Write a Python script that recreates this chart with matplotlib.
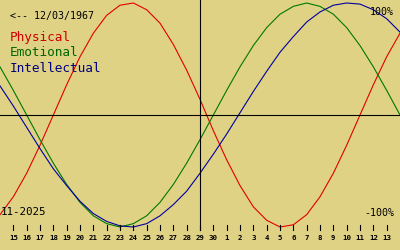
import numpy as np
import matplotlib
matplotlib.use("Agg")
import matplotlib.pyplot as plt

BG = "#E0D285"
RED = "#E00000"
GREEN = "#007800"
BLUE = "#0000A0"
MONO = "DejaVu Sans Mono"

# day labels, Nov 14 .. Dec 14 2025
day_labels = [str(d) for d in range(14, 31)] + [str(d) for d in range(1, 15)]
today_idx = 15  # Nov 29

# biorhythm values per day (-1 .. 1)
physical = [-0.89, -0.73, -0.52, -0.27, 0.00, 0.27, 0.52, 0.73, 0.89, 0.98,
            1.00, 0.94, 0.82, 0.63, 0.40, 0.14, -0.14, -0.40, -0.63, -0.82,
            -0.94, -1.00, -0.98, -0.89, -0.73, -0.52, -0.27, 0.00, 0.27, 0.52, 0.73]
emotional = [0.43, 0.22, 0.00, -0.22, -0.43, -0.62, -0.78, -0.90, -0.97, -1.00,
             -0.97, -0.90, -0.78, -0.62, -0.43, -0.22, 0.00, 0.22, 0.43, 0.62,
             0.78, 0.90, 0.97, 1.00, 0.97, 0.90, 0.78, 0.62, 0.43, 0.22, 0.00]
intellectual = [0.26, 0.08, -0.11, -0.30, -0.48, -0.63, -0.77, -0.88, -0.95, -0.99,
                -1.00, -0.97, -0.90, -0.80, -0.68, -0.52, -0.35, -0.17, 0.02, 0.21,
                0.39, 0.56, 0.70, 0.83, 0.92, 0.98, 1.00, 0.99, 0.94, 0.86, 0.74]

fig = plt.figure(figsize=(4, 2.5), dpi=100, facecolor=BG)
ax = fig.add_axes([0, 0, 1, 1])
ax.set_facecolor(BG)
ax.axis("off")

x = np.arange(len(day_labels))
ax.plot(x, physical, color=RED, lw=0.8)
ax.plot(x, emotional, color=GREEN, lw=0.8)
ax.plot(x, intellectual, color=BLUE, lw=0.8)

ax.set_xlim(0, len(day_labels) - 1)
ax.set_ylim(-135 / 112, 115 / 112)

# axes lines
ax.axhline(0, color="black", lw=0.8)
ax.axvline(today_idx, ymin=0.08, ymax=1, color="black", lw=0.8)

# day ticks + labels along the bottom
tr = ax.get_xaxis_transform()
for i in range(1, len(day_labels) - 1):
    ax.plot([i, i], [0.08, 0.10], color="black", lw=0.8, transform=tr)
    ax.text(i, 0.048, day_labels[i], transform=tr, ha="center", va="center",
            fontsize=5.3, fontweight="bold", family=MONO)

def px(xp, yp):
    return xp / 400, 1 - yp / 250

ax.text(*px(10, 16), "<-- 12/03/1967", transform=ax.transAxes, fontsize=7.2,
        family=MONO, va="center", ha="left")
ax.text(*px(10, 38), "Physical", transform=ax.transAxes, fontsize=9.2,
        family=MONO, va="center", ha="left", color="#D00000")
ax.text(*px(10, 53), "Emotional", transform=ax.transAxes, fontsize=9.2,
        family=MONO, va="center", ha="left", color="#006400")
ax.text(*px(10, 68), "Intellectual", transform=ax.transAxes, fontsize=9.2,
        family=MONO, va="center", ha="left", color="#000080")
ax.text(*px(394, 12), "100%", transform=ax.transAxes, fontsize=7.2,
        family=MONO, va="center", ha="right")
ax.text(*px(394, 212.5), "-100%", transform=ax.transAxes, fontsize=7.2,
        family=MONO, va="center", ha="right")
ax.text(*px(1, 211.7), "11-2025", transform=ax.transAxes, fontsize=7.8,
        family=MONO, va="center", ha="left")

fig.savefig("out.png", dpi=100, facecolor=BG)
